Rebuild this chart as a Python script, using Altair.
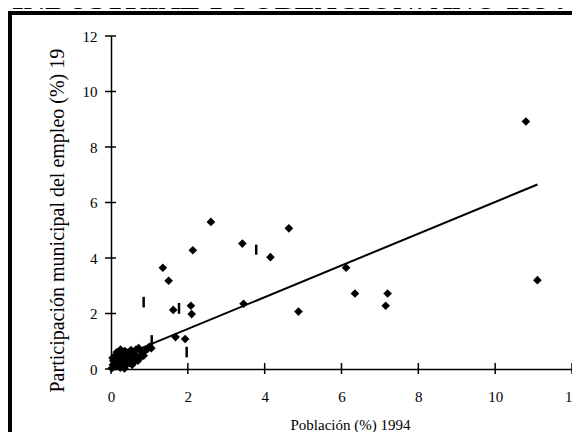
import altair as alt
import pandas as pd

# ---- data ----
chart_title = "INDUSTRIAL Y POBLACIÓN: AÑO 1994"
x_title = "Población (%) 1994"
y_title = "Participación municipal del empleo (%) 1994"

pob = [10.8, 11.1, 4.63, 4.88, 6.12, 6.35, 7.2, 7.15, 3.42, 4.15, 3.45, 2.6, 2.13,
       1.35, 1.5, 1.62, 2.08, 2.1, 1.68, 1.93,
       0.02, 0.05, 0.06, 0.08, 0.10, 0.12, 0.14, 0.16, 0.18, 0.20, 0.22, 0.24, 0.26,
       0.28, 0.30, 0.32, 0.34, 0.36, 0.38, 0.40, 0.42, 0.45, 0.48, 0.50, 0.52, 0.55,
       0.58, 0.62, 0.65, 0.68, 0.72, 0.75, 0.80, 0.85, 0.90, 0.95, 1.00, 1.05, 0.15,
       0.04, 0.35, 0.55, 0.70, 0.25]
emp = [8.92, 3.2, 5.07, 2.07, 3.65, 2.72, 2.72, 2.28, 4.52, 4.03, 2.35, 5.3, 4.28,
       3.65, 3.18, 2.13, 2.28, 1.98, 1.15, 1.08,
       0.03, 0.15, 0.30, 0.08, 0.45, 0.22, 0.10, 0.35, 0.55, 0.18, 0.42, 0.05, 0.30,
       0.62, 0.50, 0.20, 0.38, 0.65, 0.12, 0.48, 0.30, 0.60, 0.22, 0.42, 0.68, 0.35,
       0.55, 0.28, 0.70, 0.45, 0.75, 0.40, 0.60, 0.48, 0.68, 0.72, 0.80, 0.75, 0.60,
       0.40, 0.02, 0.15, 0.30, 0.70]

reg_x = [0.0, 11.1]
reg_y = [0.3, 6.65]

dash_x = [0.85, 1.77, 3.78, 1.06, 1.97]
dash_lo = [2.22, 1.99, 4.12, 0.82, 0.42]
dash_hi = [2.60, 2.38, 4.48, 1.22, 0.80]

tick_vals = [0, 2, 4, 6, 8, 10, 12]

# ---- frames ----
pts = pd.DataFrame({"x": pob, "y": emp})
reg = pd.DataFrame({"x": reg_x, "y": reg_y})
dashes = pd.DataFrame({"x": dash_x, "y": dash_lo, "y2": dash_hi})
xticks = pd.DataFrame({"x": tick_vals})
yticks = pd.DataFrame({"y": tick_vals})

FONT = "Liberation Serif"
xs = alt.Scale(domain=[0, 12], nice=False, zero=False)
ys = alt.Scale(domain=[0, 12], nice=False, zero=False)

x_axis = alt.Axis(values=tick_vals, ticks=False, grid=False, labelPadding=20,
                  labelFont=FONT, labelFontSize=15, labelColor="black",
                  domainColor="black", domainWidth=1.5, labelFlush=False,
                  title=x_title, titleFont=FONT, titleFontSize=15,
                  titleFontWeight="normal", titleColor="black",
                  titleX=299, titleY=55, titleAlign="right", titleBaseline="middle")
y_axis = alt.Axis(values=tick_vals, ticks=False, grid=False, labelPadding=14,
                  labelFont=FONT, labelFontSize=15, labelColor="black",
                  domainColor="black", domainWidth=1.5, labelFlush=False,
                  title=y_title, titleFont=FONT, titleFontSize=20,
                  titleFontWeight="normal", titleColor="black", titleAngle=270,
                  titleX=-54, titleY=356, titleAlign="left", titleBaseline="middle")

X = alt.X("x:Q", scale=xs, axis=x_axis)
Y = alt.Y("y:Q", scale=ys, axis=y_axis)

one = alt.Data(values=[{"k": 1}])

frame_left = alt.Chart(one).mark_rule(color="black", strokeWidth=4).encode(
    x=alt.value(-101), y=alt.value(-25), y2=alt.value(396))
frame_top = alt.Chart(one).mark_rule(color="black", strokeWidth=4).encode(
    x=alt.value(-103), x2=alt.value(461), y=alt.value(-23))

title = alt.Chart(pd.DataFrame({"t": [chart_title]})).mark_text(
    align="left", baseline="alphabetic", font=FONT, fontSize=30, fontWeight="bold",
    color="black").encode(text="t:N", x=alt.value(-99), y=alt.value(-27))

cover = alt.Chart(one).mark_rect(color="white").encode(
    x=alt.value(-68), x2=alt.value(-38), y=alt.value(-19), y2=alt.value(13))

yt = alt.Chart(yticks).mark_rule(color="black", strokeWidth=1.5).encode(
    y=Y, x=alt.value(-6), x2=alt.value(5))
xt = alt.Chart(xticks).mark_rule(color="black", strokeWidth=1.5).encode(
    x=X, y=alt.value(327), y2=alt.value(338))

line = alt.Chart(reg).mark_line(color="black", strokeWidth=2).encode(x=X, y=Y)

dash = alt.Chart(dashes).mark_rule(color="black", strokeWidth=2.5).encode(
    x=X, y=Y, y2="y2:Q")

points = alt.Chart(pts).mark_point(shape="diamond", filled=True, color="black",
                                   size=75, opacity=1).encode(x=X, y=Y)

chart = alt.layer(points, line, dash, yt, xt, frame_left, frame_top, title, cover).properties(
    width=461, height=333,
    padding={"left": 103, "top": 28, "right": 0, "bottom": 63},
    autosize=alt.AutoSizeParams(type="none"),
    background="white",
).configure_view(strokeWidth=0)

chart.save("out.html", embed_options={"renderer": "svg", "actions": False})
